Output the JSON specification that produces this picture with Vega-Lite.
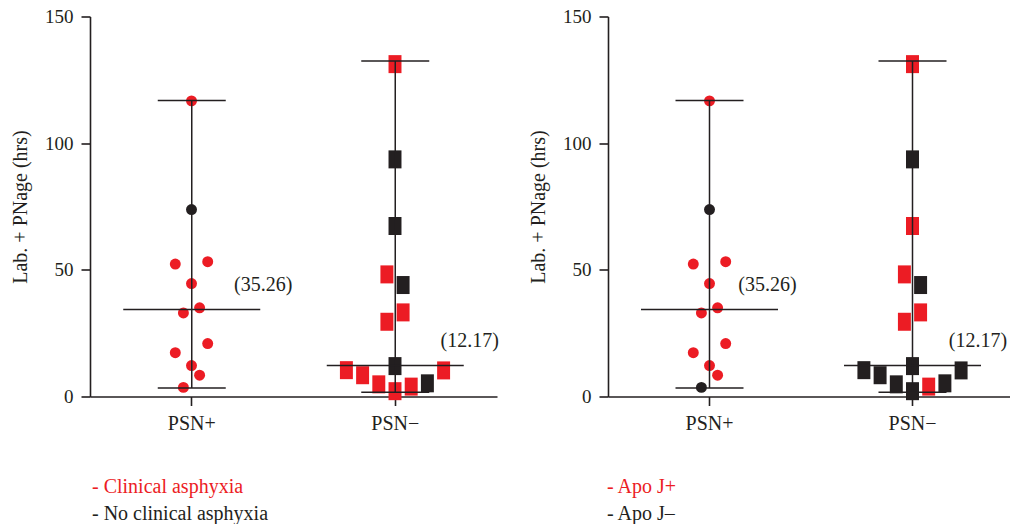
{
  "$schema": "https://vega.github.io/schema/vega-lite/v6.json",
  "background": "white",
  "padding": {"left": 10, "top": 7.5, "right": 0, "bottom": 0},
  "bounds": "flush",
  "spacing": 111,
  "config": {
    "view": {"stroke": null},
    "font": "Liberation Serif",
    "axis": {
      "domainColor": "#231F20", "domainWidth": 1.6,
      "tickColor": "#231F20", "tickWidth": 1.6, "tickSize": 9,
      "labelColor": "#231F20", "labelFont": "Liberation Serif", "labelFontSize": 20, "labelPadding": 8,
      "titleFont": "Liberation Serif", "titleFontSize": 20, "titleFontWeight": "normal", "titleColor": "#231F20",
      "grid": false
    },
    "axisY": {"labelFontSize": 19, "titlePadding": 14},
    "legend": {
      "title": null, "orient": "none", "symbolSize": 0, "symbolOpacity": 0, "symbolStrokeWidth": 0,
      "labelOffset": 0, "labelFont": "Liberation Serif", "labelFontSize": 20, "rowPadding": 7, "padding": 0,
      "labelLimit": 400
    }
  },
  "datasets": {
    "pts": [
      {"group": "PSN+", "value": 116.7, "slot": 0, "asph": "Clinical asphyxia", "apoj": "Apo J+"},
      {"group": "PSN+", "value": 73.8, "slot": 0, "asph": "No clinical asphyxia", "apoj": "Apo J–"},
      {"group": "PSN+", "value": 52.3, "slot": -2, "asph": "Clinical asphyxia", "apoj": "Apo J+"},
      {"group": "PSN+", "value": 53.2, "slot": 2, "asph": "Clinical asphyxia", "apoj": "Apo J+"},
      {"group": "PSN+", "value": 44.6, "slot": 0, "asph": "Clinical asphyxia", "apoj": "Apo J+"},
      {"group": "PSN+", "value": 35.0, "slot": 1, "asph": "Clinical asphyxia", "apoj": "Apo J+"},
      {"group": "PSN+", "value": 33.0, "slot": -1, "asph": "Clinical asphyxia", "apoj": "Apo J+"},
      {"group": "PSN+", "value": 20.9, "slot": 2, "asph": "Clinical asphyxia", "apoj": "Apo J+"},
      {"group": "PSN+", "value": 17.3, "slot": -2, "asph": "Clinical asphyxia", "apoj": "Apo J+"},
      {"group": "PSN+", "value": 12.2, "slot": 0, "asph": "Clinical asphyxia", "apoj": "Apo J+"},
      {"group": "PSN+", "value": 8.4, "slot": 1, "asph": "Clinical asphyxia", "apoj": "Apo J+"},
      {"group": "PSN+", "value": 3.6, "slot": -1, "asph": "Clinical asphyxia", "apoj": "Apo J–"},
      {"group": "PSN−", "value": 131.2, "slot": 0, "asph": "Clinical asphyxia", "apoj": "Apo J+"},
      {"group": "PSN−", "value": 93.6, "slot": 0, "asph": "No clinical asphyxia", "apoj": "Apo J–"},
      {"group": "PSN−", "value": 67.3, "slot": 0, "asph": "No clinical asphyxia", "apoj": "Apo J+"},
      {"group": "PSN−", "value": 48.2, "slot": -1, "asph": "Clinical asphyxia", "apoj": "Apo J+"},
      {"group": "PSN−", "value": 44.0, "slot": 1, "asph": "No clinical asphyxia", "apoj": "Apo J–"},
      {"group": "PSN−", "value": 33.2, "slot": 1, "asph": "Clinical asphyxia", "apoj": "Apo J+"},
      {"group": "PSN−", "value": 29.5, "slot": -1, "asph": "Clinical asphyxia", "apoj": "Apo J+"},
      {"group": "PSN−", "value": 12.0, "slot": 0, "asph": "No clinical asphyxia", "apoj": "Apo J–"},
      {"group": "PSN−", "value": 10.4, "slot": -6, "asph": "Clinical asphyxia", "apoj": "Apo J–"},
      {"group": "PSN−", "value": 8.4, "slot": -4, "asph": "Clinical asphyxia", "apoj": "Apo J–"},
      {"group": "PSN−", "value": 4.8, "slot": -2, "asph": "Clinical asphyxia", "apoj": "Apo J–"},
      {"group": "PSN−", "value": 2.1, "slot": 0, "asph": "Clinical asphyxia", "apoj": "Apo J–"},
      {"group": "PSN−", "value": 3.9, "slot": 2, "asph": "Clinical asphyxia", "apoj": "Apo J+"},
      {"group": "PSN−", "value": 5.2, "slot": 4, "asph": "No clinical asphyxia", "apoj": "Apo J–"},
      {"group": "PSN−", "value": 10.3, "slot": 6, "asph": "Clinical asphyxia", "apoj": "Apo J–"}
    ],
    "summary": [
      {"group": "PSN+", "min": 3.4, "max": 116.8, "median": 34.3, "label": "(35.26)"},
      {"group": "PSN−", "min": 1.7, "max": 132.4, "median": 12.2, "label": "(12.17)"}
    ]
  },
  "hconcat": [
    {
      "width": 407, "height": 380,
      "encoding": {
        "x": {"field": "group", "type": "nominal", "title": null,
              "scale": {"type": "band", "domain": ["PSN+", "PSN−"], "paddingInner": 0, "paddingOuter": 0},
              "axis": {"labelAngle": 0}}
      },
      "layer": [
        {
          "data": {"name": "pts"},
          "transform": [{"filter": "datum.group === 'PSN+'"}],
          "mark": {"type": "point", "shape": "circle", "filled": true, "size": 120, "opacity": 1},
          "encoding": {
            "xOffset": {"field": "slot", "type": "quantitative", "scale": {"domain": [-10, 10], "range": [20.5, 182.5]}},
            "y": {"field": "value", "type": "quantitative", "title": "Lab. + PNage (hrs)", "scale": {"domain": [0, 150], "nice": false}, "axis": {"values": [0, 50, 100, 150]}},
            "color": {"field": "asph", "type": "nominal",
                      "scale": {"domain": ["Clinical asphyxia", "No clinical asphyxia"], "range": ["#EC1C24", "#231F20"]},
                      "legend": {"legendX": -18, "legendY": 460, "labelExpr": "'- ' + datum.label",
                                 "labelColor": {"expr": "datum.value === 'Clinical asphyxia' ? '#EC1C24' : '#231F20'"}}}
          }
        },
        {
          "data": {"name": "pts"},
          "transform": [{"filter": "datum.group === 'PSN−'"}],
          "mark": {"type": "point", "shape": "M-0.72,-1H0.72V1H-0.72Z", "filled": true, "size": 324, "opacity": 1},
          "encoding": {
            "xOffset": {"field": "slot", "type": "quantitative", "scale": {"domain": [-10, 10], "range": [20.5, 182.5]}},
            "y": {"field": "value", "type": "quantitative", "title": "Lab. + PNage (hrs)"},
            "color": {"field": "asph", "type": "nominal"}
          }
        },
        {
          "data": {"name": "summary"},
          "mark": {"type": "rule", "color": "#231F20", "strokeWidth": 1.5},
          "encoding": {
            "y": {"field": "min", "type": "quantitative", "title": "Lab. + PNage (hrs)"},
            "y2": {"field": "max"}
          }
        },
        {
          "data": {"name": "summary"},
          "mark": {"type": "tick", "color": "#231F20", "thickness": 1.5, "size": 68, "opacity": 1},
          "encoding": {"y": {"field": "min", "type": "quantitative", "title": "Lab. + PNage (hrs)"}}
        },
        {
          "data": {"name": "summary"},
          "mark": {"type": "tick", "color": "#231F20", "thickness": 1.5, "size": 68, "opacity": 1},
          "encoding": {"y": {"field": "max", "type": "quantitative", "title": "Lab. + PNage (hrs)"}}
        },
        {
          "data": {"name": "summary"},
          "mark": {"type": "tick", "color": "#231F20", "thickness": 1.5, "size": 137, "opacity": 1},
          "encoding": {"y": {"field": "median", "type": "quantitative", "title": "Lab. + PNage (hrs)"}}
        },
        {
          "data": {"name": "summary"},
          "transform": [{"filter": "datum.group === 'PSN+'"}],
          "mark": {"type": "text", "font": "Liberation Serif", "fontSize": 20, "color": "#231F20", "dx": 71.5, "dy": -25, "baseline": "middle", "align": "center"},
          "encoding": {"y": {"field": "median", "type": "quantitative", "title": "Lab. + PNage (hrs)"}, "text": {"field": "label"}}
        },
        {
          "data": {"name": "summary"},
          "transform": [{"filter": "datum.group === 'PSN−'"}],
          "mark": {"type": "text", "font": "Liberation Serif", "fontSize": 20, "color": "#231F20", "dx": 74.4, "dy": -25, "baseline": "middle", "align": "center"},
          "encoding": {"y": {"field": "median", "type": "quantitative", "title": "Lab. + PNage (hrs)"}, "text": {"field": "label"}}
        }
      ]
    },
    {
      "width": 406, "height": 380,
      "encoding": {
        "x": {"field": "group", "type": "nominal", "title": null,
              "scale": {"type": "band", "domain": ["PSN+", "PSN−"], "paddingInner": 0, "paddingOuter": 0},
              "axis": {"labelAngle": 0}}
      },
      "layer": [
        {
          "data": {"name": "pts"},
          "transform": [{"filter": "datum.group === 'PSN+'"}],
          "mark": {"type": "point", "shape": "circle", "filled": true, "size": 120, "opacity": 1},
          "encoding": {
            "xOffset": {"field": "slot", "type": "quantitative", "scale": {"domain": [-10, 10], "range": [22, 184]}},
            "y": {"field": "value", "type": "quantitative", "title": "Lab. + PNage (hrs)", "scale": {"domain": [0, 150], "nice": false}, "axis": {"values": [0, 50, 100, 150]}},
            "color": {"field": "apoj", "type": "nominal",
                      "scale": {"domain": ["Apo J+", "Apo J–"], "range": ["#EC1C24", "#231F20"]},
                      "legend": {"legendX": -21, "legendY": 460, "labelExpr": "'- ' + datum.label",
                                 "labelColor": {"expr": "datum.value === 'Apo J+' ? '#EC1C24' : '#231F20'"}}}
          }
        },
        {
          "data": {"name": "pts"},
          "transform": [{"filter": "datum.group === 'PSN−'"}],
          "mark": {"type": "point", "shape": "M-0.72,-1H0.72V1H-0.72Z", "filled": true, "size": 324, "opacity": 1},
          "encoding": {
            "xOffset": {"field": "slot", "type": "quantitative", "scale": {"domain": [-10, 10], "range": [22, 184]}},
            "y": {"field": "value", "type": "quantitative", "title": "Lab. + PNage (hrs)"},
            "color": {"field": "apoj", "type": "nominal"}
          }
        },
        {
          "data": {"name": "summary"},
          "mark": {"type": "rule", "color": "#231F20", "strokeWidth": 1.5},
          "encoding": {
            "y": {"field": "min", "type": "quantitative", "title": "Lab. + PNage (hrs)"},
            "y2": {"field": "max"}
          }
        },
        {
          "data": {"name": "summary"},
          "mark": {"type": "tick", "color": "#231F20", "thickness": 1.5, "size": 68, "opacity": 1},
          "encoding": {"y": {"field": "min", "type": "quantitative", "title": "Lab. + PNage (hrs)"}}
        },
        {
          "data": {"name": "summary"},
          "mark": {"type": "tick", "color": "#231F20", "thickness": 1.5, "size": 68, "opacity": 1},
          "encoding": {"y": {"field": "max", "type": "quantitative", "title": "Lab. + PNage (hrs)"}}
        },
        {
          "data": {"name": "summary"},
          "mark": {"type": "tick", "color": "#231F20", "thickness": 1.5, "size": 137, "opacity": 1},
          "encoding": {"y": {"field": "median", "type": "quantitative", "title": "Lab. + PNage (hrs)"}}
        },
        {
          "data": {"name": "summary"},
          "transform": [{"filter": "datum.group === 'PSN+'"}],
          "mark": {"type": "text", "font": "Liberation Serif", "fontSize": 20, "color": "#231F20", "dx": 58, "dy": -25, "baseline": "middle", "align": "center"},
          "encoding": {"y": {"field": "median", "type": "quantitative", "title": "Lab. + PNage (hrs)"}, "text": {"field": "label"}}
        },
        {
          "data": {"name": "summary"},
          "transform": [{"filter": "datum.group === 'PSN−'"}],
          "mark": {"type": "text", "font": "Liberation Serif", "fontSize": 20, "color": "#231F20", "dx": 65.5, "dy": -25, "baseline": "middle", "align": "center"},
          "encoding": {"y": {"field": "median", "type": "quantitative", "title": "Lab. + PNage (hrs)"}, "text": {"field": "label"}}
        }
      ]
    }
  ],
  "resolve": {"scale": {"color": "independent"}, "legend": {"color": "independent"}}
}
